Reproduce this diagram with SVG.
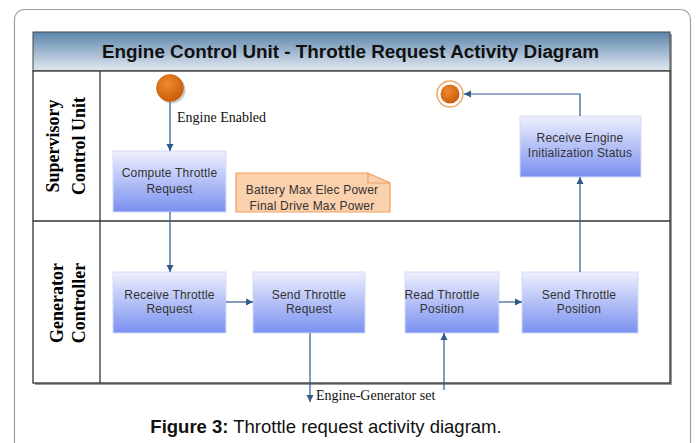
<svg xmlns="http://www.w3.org/2000/svg" width="696" height="443" viewBox="0 0 696 443">
<defs>
<linearGradient id="gTitle" x1="0" y1="0" x2="0" y2="1">
<stop offset="0" stop-color="#5b85ab"/>
<stop offset="1" stop-color="#e3e9f2"/>
</linearGradient>
<linearGradient id="gBox" x1="0" y1="0" x2="0" y2="1">
<stop offset="0" stop-color="#eef0fd"/>
<stop offset="1" stop-color="#7a90f0"/>
</linearGradient>
<radialGradient id="gOrange" cx="0.4" cy="0.35" r="0.7">
<stop offset="0" stop-color="#f08a30"/>
<stop offset="1" stop-color="#c85a08"/>
</radialGradient>
<marker id="arr" viewBox="0 0 10 10" refX="10" refY="5" markerWidth="7" markerHeight="8" markerUnits="userSpaceOnUse" orient="auto">
<path d="M0,0 L10,5 L0,10 z" fill="#2f5a8c"/>
</marker>
<style>
.box{fill:url(#gBox);stroke:#d4daf8;stroke-width:1}
.bt{font-family:"Liberation Sans",Arial,sans-serif;font-size:12px;fill:#333;text-anchor:middle;letter-spacing:0.2px}
.lane{font-family:"Liberation Serif","Times New Roman",serif;font-size:18px;font-weight:bold;fill:#000;text-anchor:middle}
.lbl{font-family:"Liberation Serif","Times New Roman",serif;font-size:14px;fill:#111}
.con{fill:none;stroke:#2f5a8c;stroke-width:1.2}
</style>
</defs>
<rect x="0" y="0" width="696" height="443" fill="#fff"/>
<rect x="14.5" y="9.5" width="676" height="460" rx="10" fill="none" stroke="#a0a0a0" stroke-width="1.2"/>

<g id="frame">
<rect x="35" y="34" width="637" height="39" fill="#9a9a9a"/>
<rect x="33" y="32" width="637" height="39" fill="url(#gTitle)" stroke="#444" stroke-width="1"/>
<text x="102" y="58" font-family="Liberation Sans,Arial,sans-serif" font-size="18" font-weight="bold" fill="#111" textLength="497" lengthAdjust="spacingAndGlyphs">Engine Control Unit - Throttle Request Activity Diagram</text>
<rect x="35" y="73" width="637" height="312" fill="#9a9a9a"/>
<rect x="33" y="71" width="637" height="312" fill="#fff" stroke="#333" stroke-width="1.3"/>
<line x1="33" y1="221" x2="670" y2="221" stroke="#333" stroke-width="1.5"/>
<line x1="100" y1="71" x2="100" y2="383" stroke="#333" stroke-width="1.3"/>
</g>

<g id="lane-supervisory">
<text class="lane" transform="translate(63,146) rotate(-90)" y="-4">Supervisory</text>
<text class="lane" transform="translate(85,146) rotate(-90)">Control Unit</text>
</g>
<g id="lane-generator">
<text class="lane" transform="translate(63,303) rotate(-90)">Generator</text>
<text class="lane" transform="translate(85,303) rotate(-90)">Controller</text>
</g>

<g id="start">
<circle cx="172" cy="90" r="13.5" fill="#000" opacity="0.2"/>
<circle cx="170" cy="88" r="13.5" fill="url(#gOrange)" stroke="#c0600e" stroke-width="0.6"/>
</g>

<g id="end">
<circle cx="450" cy="94" r="13" fill="#fff" stroke="#f3a868" stroke-width="1.5"/>
<circle cx="450" cy="94" r="9.5" fill="url(#gOrange)"/>
</g>

<g id="compute">
<rect class="box" x="113" y="151" width="113" height="61"/>
<text class="bt" x="169.5" y="177">Compute Throttle</text>
<text class="bt" x="169.5" y="193">Request</text>
</g>

<g id="note">
<path d="M236,173 H368 L390,183 V212 H236 Z" fill="#fad0ad" stroke="#f0a060" stroke-width="1.2"/>
<path d="M368,173 V183 H390" fill="none" stroke="#f0a060" stroke-width="1.2"/>
<text class="bt" x="312" y="194">Battery Max Elec Power</text>
<text class="bt" x="312" y="210">Final Drive Max Power</text>
</g>

<g id="receive-init">
<rect class="box" x="520" y="116" width="121" height="61"/>
<text class="bt" x="580" y="142">Receive Engine</text>
<text class="bt" x="580" y="157">Initialization Status</text>
</g>

<g id="receive-req">
<rect class="box" x="113" y="272" width="113" height="61"/>
<text class="bt" x="169.5" y="299">Receive Throttle</text>
<text class="bt" x="169.5" y="313">Request</text>
</g>

<g id="send-req">
<rect class="box" x="253" y="272" width="112" height="61"/>
<text class="bt" x="309" y="299">Send Throttle</text>
<text class="bt" x="309" y="313">Request</text>
</g>

<g id="read-pos">
<rect class="box" x="405" y="272" width="94" height="61"/>
<text class="bt" x="442" y="299">Read Throttle</text>
<text class="bt" x="442" y="313">Position</text>
</g>

<g id="send-pos">
<rect class="box" x="522" y="272" width="116" height="61"/>
<text class="bt" x="579" y="299">Send Throttle</text>
<text class="bt" x="579" y="313">Position</text>
</g>

<g id="connectors">
<line class="con" x1="170" y1="102" x2="170" y2="151" marker-end="url(#arr)"/>
<line class="con" x1="170" y1="212" x2="170" y2="272" marker-end="url(#arr)"/>
<line class="con" x1="226" y1="302" x2="253" y2="302" marker-end="url(#arr)"/>
<line class="con" x1="310" y1="333" x2="310" y2="402" marker-end="url(#arr)"/>
<line class="con" x1="444" y1="390" x2="444" y2="333" marker-end="url(#arr)"/>
<line class="con" x1="499" y1="302" x2="522" y2="302" marker-end="url(#arr)"/>
<line class="con" x1="580" y1="272" x2="580" y2="177" marker-end="url(#arr)"/>
<polyline class="con" points="580,116 580,94 464,94" marker-end="url(#arr)"/>
<text class="lbl" x="177" y="122">Engine Enabled</text>
<text class="lbl" x="316" y="400">Engine-Generator set</text>
</g>

<text x="326" y="433" font-family="Liberation Sans,Arial,sans-serif" font-size="18.5" text-anchor="middle" fill="#111"><tspan font-weight="bold">Figure 3:</tspan> Throttle request activity diagram.</text>
</svg>
